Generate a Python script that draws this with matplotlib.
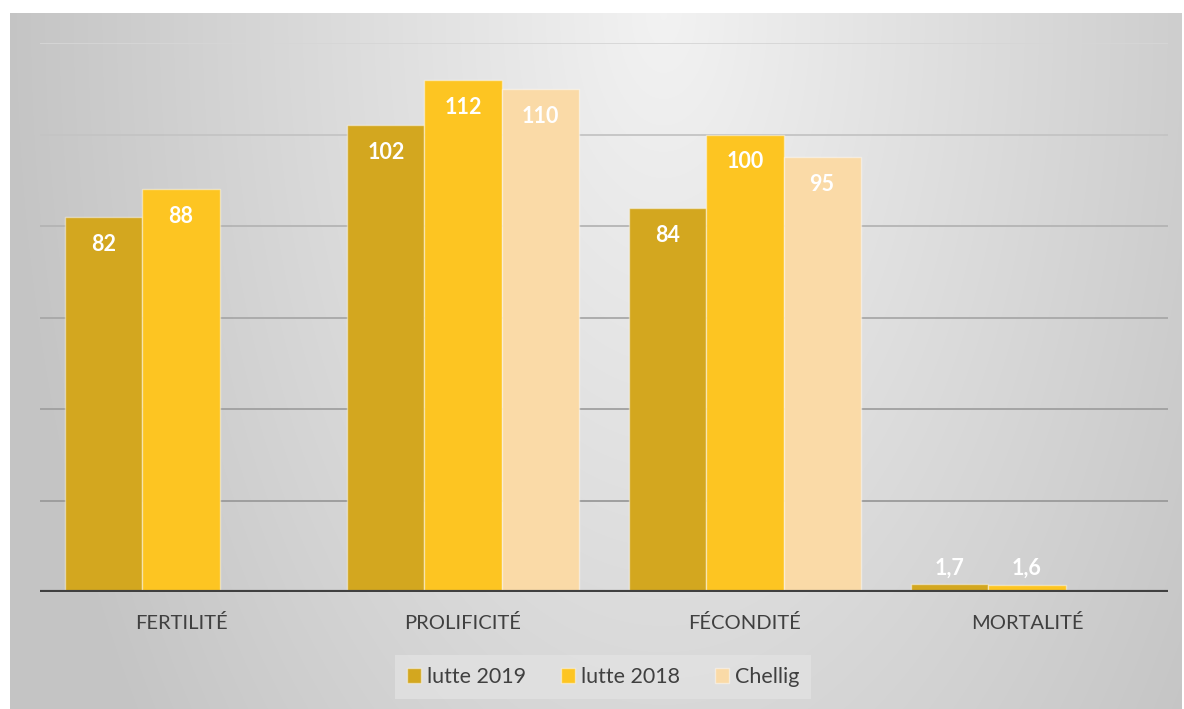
import matplotlib
matplotlib.use('Agg')
import matplotlib.pyplot as plt
import numpy as np

plt.rcParams['font.family'] = ['Lato', 'DejaVu Sans']

# données
categories = ['FERTILITÉ', 'PROLIFICITÉ', 'FÉCONDITÉ', 'MORTALITÉ']
series_names = ['lutte 2019', 'lutte 2018', 'Chellig']
lutte_2019 = [82, 102, 84, 1.7]
lutte_2018 = [88, 112, 100, 1.6]
chellig = [np.nan, 110, 95, np.nan]
yticks = [0, 20, 40, 60, 80, 100, 120]

colors = ['#D3A71F', '#FDC522', '#FADAA7']

W, H = 1184, 709
fig = plt.figure(figsize=(W / 100, H / 100), dpi=100)

# fond dégradé (radial, clair en haut au centre)
bg = fig.add_axes([10 / W, 0, 1 - 12 / W, 1 - 13 / H])
yy, xx = np.mgrid[0:H, 0:W]
d = np.sqrt(((xx - 660) / 700.0) ** 2 + ((yy - 0) / 1300.0) ** 2)
val = np.clip(0.95 - 0.19 * d, 0.77, 0.95)
bg.imshow(np.dstack([val, val, val]), aspect='auto', extent=[0, 1, 0, 1])
bg.set_axis_off()

ax = fig.add_axes([40 / W, 1 - 592 / H, (1168 - 40) / W, (592 - 43) / H])
ax.patch.set_alpha(0)

x = np.arange(len(categories))
n = 3
width = 1 / (n + 0.66)
series = [lutte_2019, lutte_2018, chellig]
for i, (name, vals) in enumerate(zip(series_names, series)):
    pos = x + (i - 1) * width
    bars = ax.bar(pos, vals, width, color=colors[i], label=name,
                  edgecolor=(1, 1, 1, 0.45), linewidth=1.0, zorder=3)
    for b, v in zip(bars, vals):
        if np.isnan(v):
            continue
        txt = f'{v:g}'.replace('.', ',')
        if v > 10:
            ax.text(b.get_x() + b.get_width() / 2, v - 6, txt, ha='center', va='center',
                    color='white', fontsize=15.5, fontweight='bold', zorder=4)
        else:
            ax.text(b.get_x() + b.get_width() / 2, v + 1.3, txt, ha='center', va='bottom',
                    color='white', fontsize=15.5, fontweight='bold', zorder=4)

grid_cols = ['#d6d6d6', '#c4c4c4', '#b4b4b4', '#a8a8a8', '#a0a0a0', '#9a9a9a']
for t, c in zip(yticks[1:][::-1], grid_cols):
    ax.axhline(t, color=c, linewidth=1.3, zorder=1)
ax.axhline(0, color='#404040', linewidth=3, zorder=5)

ax.set_xlim(-0.5, len(categories) - 0.5)
ax.set_ylim(0, 120)
ax.set_yticks([])
ax.set_xticks(x)
ax.set_xticklabels(categories, fontsize=14.5, color='#404040')
ax.tick_params(axis='x', length=0, pad=16)
for s in ax.spines.values():
    s.set_visible(False)

leg = fig.legend(loc='center', bbox_to_anchor=(603 / W, 1 - 677 / H), ncol=3,
                 fontsize=15.5, frameon=True, handlelength=0.65, handleheight=0.65,
                 handletextpad=0.3, columnspacing=1.6, borderpad=0.55,
                 fancybox=False)
leg.get_frame().set_facecolor('#e2e2e2')
leg.get_frame().set_edgecolor('none')
for t in leg.get_texts():
    t.set_color('#404040')

fig.savefig('out.png', dpi=100)
